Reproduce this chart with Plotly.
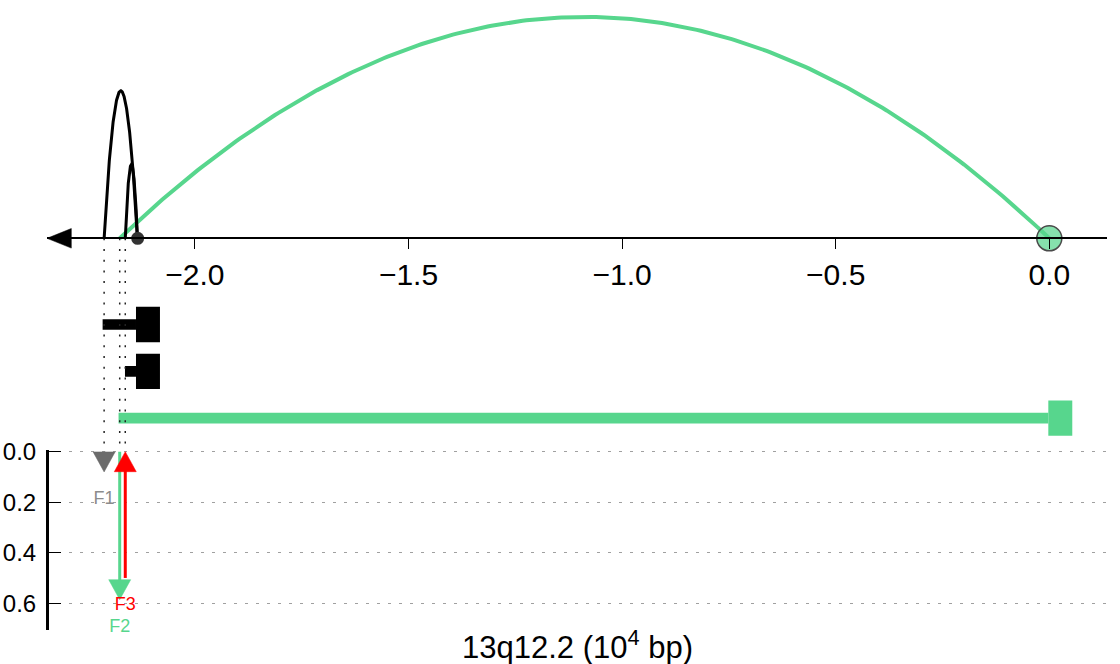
import numpy as np
import plotly.graph_objects as go

# ---------------- data ----------------
# positions along 13q12.2, in units of 10^4 bp
feature_names = ["F1", "F2", "F3"]
feature_pos = [-2.2125, -2.1760, -2.1630]
feature_values = [0.08, 0.586, 0.50]
feature_dirs = ["down", "down", "up"]
feature_colors = ["#6b6b6b", "#57d68d", "#ff0000"]
feature_label_colors = ["#8c8c8c", "#57d68d", "#ff0000"]

# interaction arcs
arc_start = [-2.1760, -2.2125, -2.1630]
arc_end = [0.0, -2.1345, -2.1345]
arc_height = [3, 2, 1]
arc_colors = ["#57d68d", "#000000", "#000000"]

# anchor points on the chromosome axis
anchor_pos = [0.0, -2.1340]

# gene models: start, coding-block start, end
gene_start = [-2.2160, -2.1637, -2.1787]
gene_block_start = [-2.1379, -2.1379, -0.0023]
gene_end = [-2.0818, -2.0818, 0.0538]
gene_colors = ["#000000", "#000000", "#57d68d"]

x_tick_vals = [-2.0, -1.5, -1.0, -0.5, 0.0]
y_tick_vals = [0.0, 0.2, 0.4, 0.6]

# ---------------- layout geometry (style) ----------------
W, H = 1120, 664
ML, MR = 47, 13
FONT = "Liberation Sans, Arial, Helvetica, sans-serif"
GREEN = "#57d68d"
X_PX = 427.2                       # px per x unit

x_range = [(ML - 1049.3) / X_PX, (W - MR - 1049.3) / X_PX]

axis_px = 238.3          # chromosome axis line
zero2_px = 451.7         # 0.0 of lower panel
unit_px = 73.8           # pixels per arc-height unit
y2_unit_px = 252.5
y2_top_px = zero2_px - 1.5   # tiny headroom so the 0.0 grid line is drawn
y2_bottom_px = 630.0

y_top_range = [(axis_px - y2_top_px) / unit_px, axis_px / unit_px]
dom_top = [1 - y2_top_px / H, 1.0]

y2_range = [(y2_bottom_px - zero2_px) / y2_unit_px, (y2_top_px - zero2_px) / y2_unit_px]
dom_y2 = [1 - y2_bottom_px / H, 1 - y2_top_px / H]

row_y = [(axis_px - p) / unit_px for p in (324.5, 371.3, 418.1)]
thin_w = 10.7 / unit_px
block_w = 35.3 / unit_px

head_len2 = 20.0 / y2_unit_px      # arrow head length (lower panel units)
head_hw = 11.0 / X_PX              # arrow head half width (x units)

fig = go.Figure()

# vertical dotted guide lines
gx, gy = [], []
for p in feature_pos:
    gx += [p, p, None]
    gy += [0, (axis_px - zero2_px) / unit_px, None]
fig.add_trace(go.Scatter(x=gx, y=gy, mode="lines", xaxis="x", yaxis="y",
                         line=dict(color="#222222", width=1.5, dash="2px,8.7px"),
                         hoverinfo="skip", showlegend=False))

# arcs (quadratic Bezier -> parabola)
t = np.linspace(0, 1, 241)
for s, e, h, c in zip(arc_start, arc_end, arc_height, arc_colors):
    xs = s + (e - s) * t
    ys = h * 4 * t * (1 - t)
    fig.add_trace(go.Scatter(x=xs, y=ys, mode="lines", xaxis="x", yaxis="y",
                             line=dict(color=c, width=4 if c == GREEN else 3),
                             hoverinfo="skip", showlegend=False))

# gene models as horizontal bars
fig.add_trace(go.Bar(orientation="h", y=row_y, base=gene_start,
                     x=[b - s for s, b in zip(gene_start, gene_block_start)],
                     width=[thin_w] * 3, marker=dict(color=gene_colors, line=dict(width=0)),
                     xaxis="x", yaxis="y", showlegend=False, hoverinfo="skip"))
fig.add_trace(go.Bar(orientation="h", y=row_y, base=gene_block_start,
                     x=[e - b for b, e in zip(gene_block_start, gene_end)],
                     width=[block_w] * 3, marker=dict(color=gene_colors, line=dict(width=0)),
                     xaxis="x", yaxis="y", showlegend=False, hoverinfo="skip"))

# anchor points
fig.add_trace(go.Scatter(x=[anchor_pos[0]], y=[0], mode="markers", xaxis="x", yaxis="y",
                         marker=dict(size=25, color="rgba(87,214,141,0.72)",
                                     line=dict(color="#4a4a4a", width=1.5)),
                         cliponaxis=False, showlegend=False, hoverinfo="skip"))
fig.add_trace(go.Scatter(x=[anchor_pos[1]], y=[0], mode="markers", xaxis="x", yaxis="y",
                         marker=dict(size=13, color="#333333", line=dict(width=0)),
                         cliponaxis=False, showlegend=False, hoverinfo="skip"))

# axis arrow (left end of the chromosome axis)
ax_len = 24.3 / X_PX
ax_hw = 9.8 / unit_px
fig.add_trace(go.Scatter(x=[x_range[0], x_range[0] + ax_len, x_range[0] + ax_len, x_range[0]],
                         y=[0, ax_hw, -ax_hw, 0], mode="lines", fill="toself",
                         fillcolor="black", line=dict(color="black", width=0.5),
                         xaxis="x", yaxis="y", hoverinfo="skip", showlegend=False))

# feature arrows: shaft + head
for p, v, d, c in zip(feature_pos, feature_values, feature_dirs, feature_colors):
    tail, tip = (0.0, v) if d == "down" else (v, 0.0)
    sgn = 1 if tip > tail else -1
    base = tip - sgn * head_len2
    if (base - tail) * sgn > 1e-9:
        fig.add_trace(go.Scatter(x=[p, p], y=[tail, base + sgn * 0.004], mode="lines",
                                 line=dict(color=c, width=3), xaxis="x", yaxis="y2",
                                 hoverinfo="skip", showlegend=False))
    fig.add_trace(go.Scatter(x=[p - head_hw, p + head_hw, p, p - head_hw],
                             y=[base, base, tip, base], mode="lines", fill="toself",
                             fillcolor=c, line=dict(color=c, width=0.5),
                             xaxis="x", yaxis="y2", cliponaxis=False,
                             hoverinfo="skip", showlegend=False))

# feature labels
label_y = [max(0.0, v) + 0.11 for v in feature_values]
fig.add_trace(go.Scatter(x=feature_pos, y=label_y, mode="text", text=feature_names,
                         textposition="middle center",
                         textfont=dict(family=FONT, size=18, color=feature_label_colors),
                         xaxis="x", yaxis="y2", cliponaxis=False,
                         showlegend=False, hoverinfo="skip"))

annotations = [dict(x=0.5, y=1 - 645 / H, xref="paper", yref="paper",
                    text="13q12.2 (10<sup>4</sup> bp)", showarrow=False,
                    xanchor="center", yanchor="middle",
                    font=dict(family=FONT, size=31, color="black"))]

x_pos = dom_top[0] + (0 - y_top_range[0]) / (y_top_range[1] - y_top_range[0]) * (dom_top[1] - dom_top[0])

fig.update_layout(
    width=W, height=H, margin=dict(l=ML, r=MR, t=0, b=0, pad=0),
    autosize=False,
    paper_bgcolor="white", plot_bgcolor="white",
    barmode="overlay", showlegend=False,
    font=dict(family=FONT, color="black"),
    xaxis=dict(range=x_range, domain=[0, 1], anchor="free", position=x_pos,
               showline=True, linecolor="black", linewidth=2,
               ticks="outside", ticklen=10, tickwidth=1, tickcolor="black",
               tickvals=x_tick_vals, tickformat=".1f",
               tickfont=dict(family=FONT, size=30, color="black"),
               showgrid=False, zeroline=False, automargin=False),
    yaxis=dict(range=y_top_range, domain=dom_top, anchor="x", visible=False,
               showgrid=False, zeroline=False, automargin=False),
    yaxis2=dict(range=y2_range, domain=dom_y2, anchor="free", position=0,
                showline=True, linecolor="black", linewidth=3,
                ticks="inside", ticklen=12, tickwidth=1, tickcolor="black",
                tickvals=y_tick_vals, tickformat=".1f", ticklabelstandoff=5,
                tickfont=dict(family=FONT, size=24, color="black"),
                showgrid=True, gridcolor="#a0a0a0", gridwidth=1, griddash="3px,8px",
                zeroline=False, automargin=False),
    annotations=annotations,
)

fig.write_html("out.html", config={"displayModeBar": False, "responsive": False},
               post_script="document.body.style.margin='0px';document.body.style.overflow='hidden';")
